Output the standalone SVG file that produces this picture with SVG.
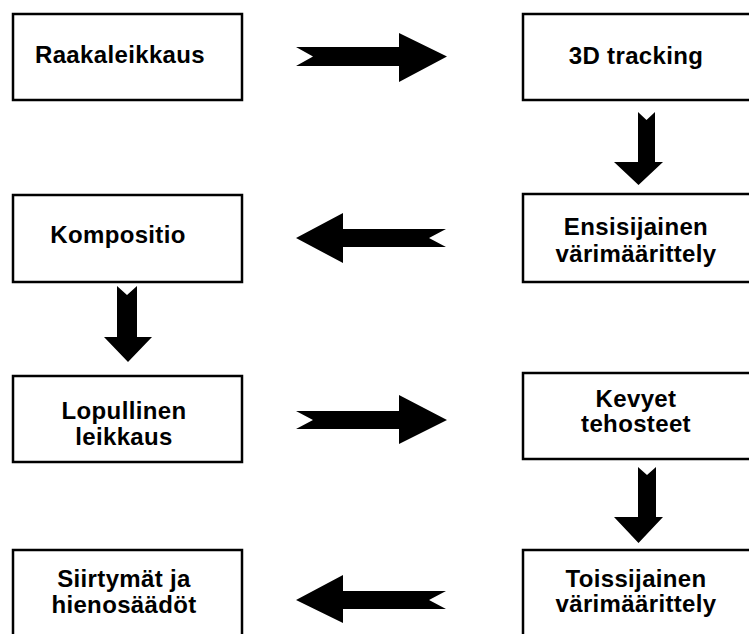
<svg xmlns="http://www.w3.org/2000/svg" width="749" height="634" viewBox="0 0 749 634">
<style>
.box{fill:#fff;stroke:#000;stroke-width:2.5}
.t{font-family:"Liberation Sans",Arial,sans-serif;font-weight:bold;font-size:24px;letter-spacing:0.35px;fill:#000;text-anchor:middle}
.arr{fill:#000}
</style>
<rect width="749" height="634" fill="#fff"/>
<g id="raakaleikkaus"><rect class="box" x="13" y="14" width="229" height="86"/><text class="t" x="120" y="63">Raakaleikkaus</text></g>
<g id="tracking"><rect class="box" x="523" y="14" width="240" height="86"/><text class="t" x="636" y="64">3D tracking</text></g>
<g id="komposito"><rect class="box" x="13" y="195" width="229" height="87"/><text class="t" x="118" y="243">Kompositio</text></g>
<g id="ensisijainen"><rect class="box" x="523" y="194" width="240" height="88"/><text class="t" x="636" y="235">Ensisijainen</text><text class="t" x="636" y="262">värimäärittely</text></g>
<g id="lopullinen"><rect class="box" x="13" y="376" width="229" height="86"/><text class="t" x="124" y="419">Lopullinen</text><text class="t" x="124" y="445">leikkaus</text></g>
<g id="kevyet"><rect class="box" x="523" y="373" width="240" height="86"/><text class="t" x="636" y="407">Kevyet</text><text class="t" x="636" y="432">tehosteet</text></g>
<g id="siirtymat"><rect class="box" x="13" y="550" width="229" height="100"/><text class="t" x="124" y="587">Siirtymät ja</text><text class="t" x="124" y="613">hienosäädöt</text></g>
<g id="toissijainen"><rect class="box" x="523" y="550" width="240" height="100"/><text class="t" x="636" y="587">Toissijainen</text><text class="t" x="636" y="612">värimäärittely</text></g>
<g id="connectors">
<polygon class="arr" points="296,47 399,47 399,33 447,56.5 399,82 399,66 296,66 313,56.5"/>
<polygon class="arr" points="638,112 646.5,120 655,112 655,162 663,162 638.5,185 614,162 638,162"/>
<polygon class="arr" points="296,238 343,213 343,229 446,229 429,238 446,247 343,247 343,263"/>
<polygon class="arr" points="117,286 127,295 137,286 137,337 152,337 128,362 104,337 117,337"/>
<polygon class="arr" points="296,411 399,411 399,395 447,420 399,444 399,429 296,429 313,420"/>
<polygon class="arr" points="638,467 647,475 656,467 656,517 663,517 638.5,543 614,517 638,517"/>
<polygon class="arr" points="296,600 343,575 343,591 446,591 429,600 446,609 343,609 343,623"/>
</g>
</svg>
